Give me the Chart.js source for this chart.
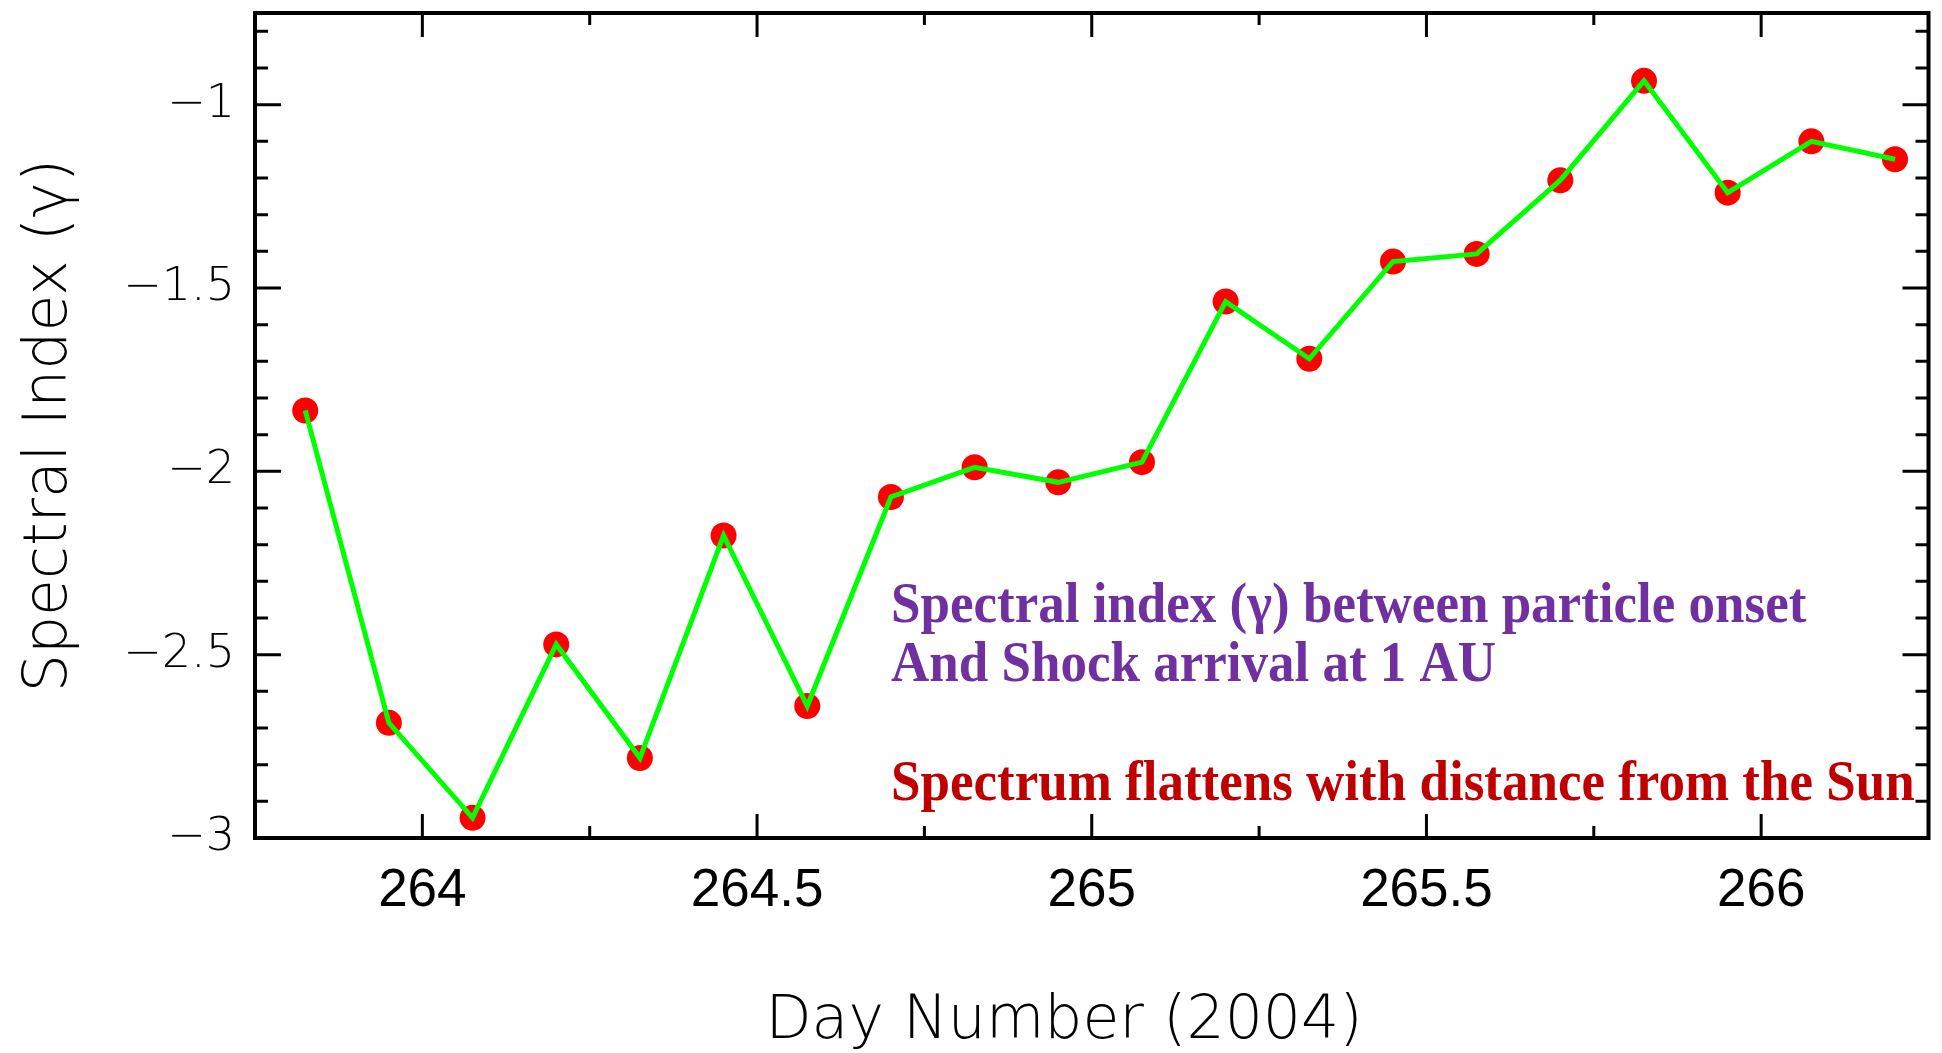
<!DOCTYPE html>
<html>
<head>
<meta charset="utf-8">
<title>Spectral Index vs Day Number (2004)</title>
<script src="https://cdn.jsdelivr.net/npm/chart.js"></script>
<style>
  html, body { margin: 0; padding: 0; background: #fff; }
  #wrap { width: 1942px; height: 1053px; position: relative; }
</style>
</head>
<body>
<div id="wrap"><canvas id="spectralChart"></canvas></div>
<script>
// day of year (2004), one sample every 3 hours
const dayNumbers = [263.825, 263.95, 264.075, 264.2, 264.325, 264.45, 264.575, 264.7, 264.825, 264.95,
                    265.075, 265.2, 265.325, 265.45, 265.575, 265.7, 265.825, 265.95, 266.075, 266.2];
const spectralIndex = [-1.834, -2.686, -2.945, -2.472, -2.782, -2.175, -2.640, -2.070, -1.989, -2.030,
                       -1.975, -1.537, -1.693, -1.428, -1.407, -1.206, -0.935, -1.240, -1.100, -1.149];

const xTickValues = [264, 264.5, 265, 265.5, 266];
const xMinorValues = [264.25, 264.75, 265.25, 265.75];
const yTickValues = [-3, -2.5, -2, -1.5, -1];
const yMinorValues = [-2.9, -2.8, -2.7, -2.6, -2.4, -2.3, -2.2, -2.1, -1.9, -1.8, -1.7, -1.6,
                      -1.4, -1.3, -1.2, -1.1, -0.9, -0.8];

const xTitle = "Day Number (2004)";
const yTitle = "Spectral Index (γ)";
const noteLines = ["Spectral index (γ) between particle onset", "And Shock arrival at 1 AU"];
const noteConclusion = "Spectrum flattens with distance from the Sun";

const points = dayNumbers.map((d, i) => ({ x: d, y: spectralIndex[i] }));
const minus = (v) => (v < 0 ? "\u2212" : "") + Math.abs(v);

// box around the plot with inward major/minor ticks on all four sides
const frameTicks = {
  id: "frameTicks",
  afterDraw(chart) {
    const { ctx, chartArea: a, scales: { x, y } } = chart;
    ctx.save();
    ctx.strokeStyle = "#000";
    ctx.lineWidth = 3;
    ctx.beginPath();
    const xMarks = (vals, len) => vals.forEach((v) => {
      const px = x.getPixelForValue(v);
      ctx.moveTo(px, a.bottom); ctx.lineTo(px, a.bottom - len);
      ctx.moveTo(px, a.top); ctx.lineTo(px, a.top + len);
    });
    const yMarks = (vals, len) => vals.forEach((v) => {
      const py = y.getPixelForValue(v);
      ctx.moveTo(a.left, py); ctx.lineTo(a.left + len, py);
      ctx.moveTo(a.right, py); ctx.lineTo(a.right - len, py);
    });
    xMarks(xTickValues, 24);
    xMarks(xMinorValues, 12);
    yMarks(yTickValues, 26);
    yMarks(yMinorValues, 13);
    ctx.stroke();
    ctx.lineWidth = 4;
    ctx.strokeRect(a.left, a.top, a.right - a.left, a.bottom - a.top);
    ctx.restore();
  },
};

// tall bold serif line, slightly stretched vertically
function noteText(ctx, text, x, y, color) {
  ctx.save();
  ctx.translate(x, y);
  ctx.scale(1, 1.06);
  ctx.fillStyle = color;
  ctx.fillText(text, 0, 0);
  ctx.restore();
}

// x title and the two text notes inside the plot
const notes = {
  id: "notes",
  afterDraw(chart) {
    const { ctx, chartArea: a } = chart;
    ctx.save();
    ctx.textBaseline = "alphabetic";
    ctx.textAlign = "left";
    ctx.font = "bold 53px 'Liberation Serif', 'Times New Roman', serif";
    noteLines.forEach((t, i) => noteText(ctx, t, a.left + 636, 622 + i * 59, "#7030A0"));
    noteText(ctx, noteConclusion, a.left + 636, 800, "#C00000");

    ctx.font = "200 60px 'DejaVu Sans', sans-serif";
    ctx.fillStyle = "#000";
    ctx.textAlign = "center";
    ctx.fillText(xTitle, 1064, 1038);
    ctx.restore();
  },
};

new Chart(document.getElementById("spectralChart"), {
  type: "scatter",
  data: {
    datasets: [
      {
        label: "line",
        data: points,
        showLine: true,
        borderColor: "#00ff00",
        borderWidth: 5,
        pointRadius: 0,
        order: 0,
      },
      {
        label: "points",
        data: points,
        showLine: false,
        backgroundColor: "#ff0000",
        borderWidth: 0,
        pointRadius: 13,
        order: 1,
      },
    ],
  },
  options: {
    responsive: true,
    maintainAspectRatio: false,
    animation: false,
    layout: { padding: { top: 9.5, right: 13.5, left: 0, bottom: 0 } },
    plugins: {
      legend: { display: false },
      tooltip: { enabled: false },
    },
    scales: {
      x: {
        type: "linear",
        min: 263.75,
        max: 266.25,
        grid: { display: false },
        border: { display: false },
        afterBuildTicks: (s) => { s.ticks = xTickValues.map((v) => ({ value: v })); },
        afterFit: (s) => { s.height = 215; s.paddingLeft = 0; s.paddingRight = 0; },
        ticks: {
          autoSkip: false,
          maxRotation: 0,
          padding: 14,
          color: "#000",
          font: { family: "'Liberation Sans', Arial, sans-serif", size: 53 },
          callback: (v) => String(v),
        },
      },
      y: {
        type: "linear",
        min: -3,
        max: -0.75,
        grid: { display: false },
        border: { display: false },
        afterBuildTicks: (s) => { s.ticks = yTickValues.map((v) => ({ value: v })); },
        afterFit: (s) => { s.width = 255; s.paddingTop = 0; s.paddingBottom = 0; },
        title: {
          display: true,
          text: yTitle,
          color: "#000",
          padding: { top: 14, bottom: 0 },
          font: { family: "'DejaVu Sans', sans-serif", size: 60, weight: 200 },
        },
        ticks: {
          padding: 12,
          color: "#000",
          font: { family: "'DejaVu Sans', sans-serif", size: 46, weight: 200 },
          callback: (v) => minus(v),
        },
      },
    },
  },
  plugins: [frameTicks, notes],
});
</script>
</body>
</html>
